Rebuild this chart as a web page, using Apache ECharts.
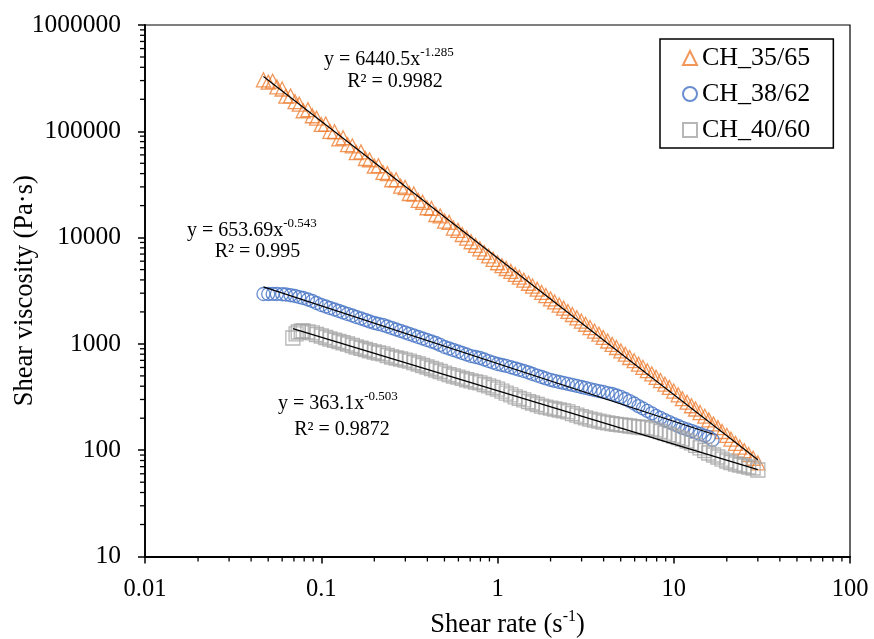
<!DOCTYPE html>
<html>
<head>
<meta charset="utf-8">
<script src="https://cdn.jsdelivr.net/npm/echarts@6/dist/echarts.min.js"></script>
<style>
  html, body { margin: 0; padding: 0; background: #fff; }
  #chart { width: 874px; height: 639px; }
</style>
</head>
<body>
<div id="chart"></div>
<script>
// Flow curves: shear viscosity vs shear rate for three blend ratios
const seriesNames = ['CH_35/65', 'CH_38/62', 'CH_40/60'];

const shearRate35 = [0.047, 0.050, 0.053, 0.056, 0.060, 0.063, 0.067, 0.071, 0.075, 0.079, 0.084, 0.089, 0.094,
  0.1, 0.106, 0.112, 0.119, 0.126, 0.133, 0.141, 0.150, 0.158, 0.168, 0.178, 0.188, 0.2, 0.211, 0.224, 0.237, 0.251, 0.266,
  0.282, 0.299, 0.316, 0.335, 0.355, 0.376, 0.398, 0.422, 0.447, 0.473, 0.501, 0.531, 0.562, 0.596, 0.631, 0.668, 0.708, 0.750,
  0.794, 0.841, 0.891, 0.944,
  1, 1.06, 1.12, 1.19, 1.26, 1.33, 1.41, 1.50, 1.58, 1.68, 1.78, 1.88, 2.0, 2.11, 2.24, 2.37, 2.51, 2.66, 2.82, 2.99,
  3.16, 3.35, 3.55, 3.76, 3.98, 4.22, 4.47, 4.73, 5.01, 5.31, 5.62, 5.96, 6.31, 6.68, 7.08, 7.50, 7.94, 8.41, 8.91, 9.44,
  10, 10.6, 11.2, 11.9, 12.6, 13.3, 14.1, 15.0, 15.8, 16.8, 17.8, 18.8, 20, 21.1, 22.4, 23.7, 25.1, 26.6, 28.2, 30];
const viscosity35 = [305000, 290000, 296000, 262000, 250000, 214000, 215000, 190000, 180000, 156000, 160000, 140000, 133000,
  116000, 117000, 100000, 99000, 85000, 87000, 75000, 73000, 63000, 64000, 55500, 54000, 47000, 47500, 41000, 40000, 35000, 35000,
  30500, 29600, 26000, 25700, 22400, 21500, 19100, 18800, 16500, 16000, 14300, 13900, 12300, 11700, 10700, 9900, 9140, 8450,
  7840, 7250, 6720, 6250,
  5800, 5440, 5120, 4810, 4500, 4240, 3980, 3720, 3500, 3270, 3050, 2850, 2650, 2480, 2320, 2170, 2020, 1890, 1760, 1640,
  1530, 1425, 1320, 1235, 1150, 1065, 990, 925, 860, 800, 745, 695, 645, 602, 560, 522, 485, 452, 418, 390,
  360, 332, 305, 283, 262, 244, 226, 209, 193, 177, 163, 150, 138, 127, 116, 107, 99, 91, 84, 76];

const shearRate38 = [0.047, 0.050, 0.053, 0.056, 0.060, 0.063, 0.067, 0.071, 0.075, 0.079, 0.084, 0.089, 0.094,
  0.1, 0.106, 0.112, 0.119, 0.126, 0.133, 0.141, 0.150, 0.158, 0.168, 0.178, 0.188, 0.2, 0.211, 0.224, 0.237, 0.251, 0.266,
  0.282, 0.299, 0.316, 0.335, 0.355, 0.376, 0.398, 0.422, 0.447, 0.473, 0.501, 0.531, 0.562, 0.596, 0.631, 0.668, 0.708, 0.750,
  0.794, 0.841, 0.891, 0.944,
  1, 1.06, 1.12, 1.19, 1.26, 1.33, 1.41, 1.50, 1.58, 1.68, 1.78, 1.88, 2.0, 2.11, 2.24, 2.37, 2.51, 2.66, 2.82, 2.99,
  3.16, 3.35, 3.55, 3.76, 3.98, 4.22, 4.47, 4.73, 5.01, 5.31, 5.62, 5.96, 6.31, 6.68, 7.08, 7.50, 7.94, 8.41, 8.91, 9.44,
  10, 10.6, 11.2, 11.9, 12.6, 13.3, 14.1, 15.0, 15.8, 16.6];
const viscosity38 = [2947, 2947, 2950, 2947, 2930, 2915, 2870, 2822, 2760, 2703, 2617, 2533, 2425,
  2323, 2248, 2176, 2106, 2039, 1974, 1911, 1850, 1791, 1734, 1679, 1625, 1573, 1539, 1506, 1458, 1411, 1366,
  1323, 1280, 1239, 1199, 1161, 1124, 1088, 1053, 1020, 977, 935, 905, 876, 848, 821, 795, 769, 753,
  737, 713, 690, 668,
  647, 633, 620, 603, 587, 571, 556, 538, 521, 504, 488, 473, 458, 448, 438, 429, 420, 411, 402, 393,
  385, 376, 368, 360, 353, 345, 338, 327, 317, 303, 290, 275, 260, 247, 234, 222, 210, 201, 192, 184,
  176, 169, 162, 157, 152, 147, 142, 137, 133, 125];

const shearRate40 = [0.069, 0.072, 0.074, 0.077, 0.079, 0.084, 0.089, 0.094,
  0.1, 0.106, 0.112, 0.119, 0.126, 0.133, 0.141, 0.150, 0.158, 0.168, 0.178, 0.188, 0.2, 0.211, 0.224, 0.237, 0.251, 0.266,
  0.282, 0.299, 0.316, 0.335, 0.355, 0.376, 0.398, 0.422, 0.447, 0.473, 0.501, 0.531, 0.562, 0.596, 0.631, 0.668, 0.708, 0.750,
  0.794, 0.841, 0.891, 0.944,
  1, 1.06, 1.12, 1.19, 1.26, 1.33, 1.41, 1.50, 1.58, 1.68, 1.78, 1.88, 2.0, 2.11, 2.24, 2.37, 2.51, 2.66, 2.82, 2.99,
  3.16, 3.35, 3.55, 3.76, 3.98, 4.22, 4.47, 4.73, 5.01, 5.31, 5.62, 5.96, 6.31, 6.68, 7.08, 7.50, 7.94, 8.41, 8.91, 9.44,
  10, 10.6, 11.2, 11.9, 12.6, 13.3, 14.1, 15.0, 15.8, 16.8, 17.8, 18.8, 20, 21.1, 22.4, 23.7, 25.1, 26.6, 28.2, 30];
const viscosity40 = [1136, 1240, 1294, 1315, 1323, 1300, 1267, 1226,
  1187, 1149, 1112, 1082, 1053, 1025, 998, 966, 935, 910, 886, 862, 839, 821, 804, 778, 753, 737,
  721, 705, 690, 668, 647, 626, 606, 587, 568, 550, 532, 515, 499, 486, 473, 460, 448, 438,
  429, 415, 402, 389,
  376, 360, 345, 331, 317, 307, 297, 287, 278, 269, 260, 254, 249, 244, 239, 234, 229, 221, 214, 207,
  201, 196, 192, 188, 184, 181, 178, 175, 173, 171, 169, 167, 165, 163.5, 162, 158.5, 155, 150, 145, 140,
  136, 131.5, 127.5, 122, 117, 111, 105, 99.4, 94.1, 90.1, 86.3, 82.6, 79.1, 76.6, 74.2, 72.6, 71.0, 69.5, 68.0, 65.1];

// Power-law fits  y = a * x^b
const fitCoef = [6440.5, 653.69, 363.1];
const fitExp = [-1.285, -0.543, -0.503];
const fitR2 = ['0.9982', '0.995', '0.9872'];

const xTickLabels = ['0.01', '0.1', '1', '10', '100'];
const yTickLabels = ['10', '100', '1000', '10000', '100000', '1000000'];

const FONT = "'Times New Roman', 'Liberation Serif', serif";
const COLORS = ['#ED7D31', '#4472C4', '#A5A5A5'];
const SYMBOLS = ['triangle', 'circle', 'rect'];
const SYMBOL_SIZES = [14, 13, 14];
const X_MIN = 0.01, X_MAX = 100, Y_MIN = 10, Y_MAX = 1e6;

const rates = [shearRate35, shearRate38, shearRate40];
const viscs = [viscosity35, viscosity38, viscosity40];
const pointSets = rates.map((xs, k) => xs.map((x, i) => [x, viscs[k][i]]));

// fitted line over each series' measured range (straight in log-log)
function trendLine(k) {
  const xs = rates[k];
  return [xs[0], xs[xs.length - 1]].map(x => [x, fitCoef[k] * Math.pow(x, fitExp[k])]);
}

// minor tick positions 2..9 in every decade
function minorValues(lo, hi) {
  const out = [];
  for (let d = lo; d < hi * 0.999; d *= 10) {
    for (let m = 2; m <= 9; m++) out.push(+(m * d).toPrecision(4));
  }
  return out;
}
const minorX = minorValues(X_MIN, X_MAX);
const minorY = minorValues(Y_MIN, Y_MAX);

function decadeLabel(list, base) {
  return v => {
    const i = Math.round(Math.log10(v)) - Math.round(Math.log10(base));
    return list[i] !== undefined ? list[i] : '';
  };
}

const chart = echarts.init(document.getElementById('chart'));

const series = [];
pointSets.forEach((pts, k) => {
  series.push({
    name: seriesNames[k],
    type: 'scatter',
    data: pts,
    symbol: SYMBOLS[k],
    symbolSize: SYMBOL_SIZES[k],
    itemStyle: { color: 'rgba(0,0,0,0)', borderColor: COLORS[k], borderWidth: 1.3 },
    emphasis: { disabled: true },
    silent: true,
    z: 2 + k
  });
});
[0, 1, 2].forEach(k => {
  series.push({
    type: 'line',
    data: trendLine(k),
    symbol: 'none',
    lineStyle: { color: '#000', width: 1.2 },
    silent: true,
    z: 10
  });
});
series.push({
  type: 'custom',
  data: minorX.map(v => [v, Y_MIN]),
  clip: false,
  silent: true,
  z: 12,
  renderItem: (params, api) => {
    const c = api.coord([api.value(0), Y_MIN]);
    return { type: 'line', shape: { x1: c[0], y1: c[1], x2: c[0], y2: c[1] + 5 },
             style: { stroke: '#000', lineWidth: 1.3 } };
  }
});
series.push({
  type: 'custom',
  data: minorY.map(v => [X_MIN, v]),
  clip: false,
  silent: true,
  z: 12,
  renderItem: (params, api) => {
    const c = api.coord([X_MIN, api.value(1)]);
    return { type: 'line', shape: { x1: c[0] - 5, y1: c[1], x2: c[0], y2: c[1] },
             style: { stroke: '#000', lineWidth: 1.3 } };
  }
});

const eqRich = {
  m: { fontFamily: FONT, fontSize: 20, color: '#000', lineHeight: 24, verticalAlign: 'bottom' },
  s: { fontFamily: FONT, fontSize: 13, color: '#000', lineHeight: 14, verticalAlign: 'top' }
};
function eqText(k, x, y) {
  return {
    type: 'text', x: x, y: y, z: 20, silent: true,
    style: { text: '{m|y = ' + fitCoef[k] + 'x}{s|' + fitExp[k] + '}', rich: eqRich,
             align: 'left', verticalAlign: 'top' }
  };
}
function r2Text(k, x, y) {
  return {
    type: 'text', x: x, y: y, z: 20, silent: true,
    style: { text: 'R² = ' + fitR2[k], fontFamily: FONT, fontSize: 20, fill: '#000',
             align: 'center', verticalAlign: 'middle' }
  };
}

chart.setOption({
  animation: false,
  backgroundColor: '#fff',
  grid: { left: 145, right: 24, top: 25, bottom: 82.5, show: true,
          containLabel: false, outerBoundsMode: 'none',
          borderColor: '#000', borderWidth: 1.2, backgroundColor: 'transparent' },
  legend: {
    data: seriesNames,
    orient: 'vertical',
    left: 660, top: 39,
    padding: [6, 23, 5, 22],
    itemGap: 10,
    itemWidth: 14, itemHeight: 14,
    borderColor: '#000', borderWidth: 1.5,
    backgroundColor: '#fff',
    textStyle: { fontFamily: FONT, fontSize: 26, color: '#000' }
  },
  xAxis: {
    type: 'log', logBase: 10, min: X_MIN, max: X_MAX, splitNumber: 4,
    axisLine: { lineStyle: { color: '#000', width: 1.8 } },
    axisTick: { inside: false, length: 7, lineStyle: { color: '#000', width: 1.5 } },
    splitLine: { show: false },
    axisLabel: { color: '#000', fontFamily: FONT, fontSize: 24.5, margin: 21,
                 showMinLabel: true, showMaxLabel: true,
                 formatter: decadeLabel(xTickLabels, X_MIN) },
    name: '{n|Shear rate (s}{sup|-1}{n|)}',
    nameLocation: 'middle', nameGap: 52, nameMoveOverlap: false,
    nameTextStyle: {
      padding: [0, 0, 0, 20],
      rich: {
        n: { fontFamily: FONT, fontSize: 26.5, color: '#000', lineHeight: 30, verticalAlign: 'bottom' },
        sup: { fontFamily: FONT, fontSize: 16, color: '#000', lineHeight: 20, verticalAlign: 'top' }
      }
    }
  },
  yAxis: {
    type: 'log', logBase: 10, min: Y_MIN, max: Y_MAX, splitNumber: 5,
    axisLine: { lineStyle: { color: '#000', width: 1.8 } },
    axisTick: { inside: false, length: 7, lineStyle: { color: '#000', width: 1.5 } },
    splitLine: { show: false },
    axisLabel: { color: '#000', fontFamily: FONT, fontSize: 25.5, margin: 24,
                 showMinLabel: true, showMaxLabel: true,
                 formatter: decadeLabel(yTickLabels, Y_MIN) },
    name: 'Shear viscosity (Pa·s)',
    nameLocation: 'middle', nameGap: 106, nameMoveOverlap: false,
    nameTextStyle: { fontFamily: FONT, fontSize: 26.5, color: '#000' }
  },
  graphic: [
    eqText(0, 324, 46), r2Text(0, 395, 81.5),
    eqText(1, 187, 217), r2Text(1, 257.5, 252),
    eqText(2, 278, 390), r2Text(2, 342, 430)
  ],
  series: series
});
</script>
</body>
</html>
